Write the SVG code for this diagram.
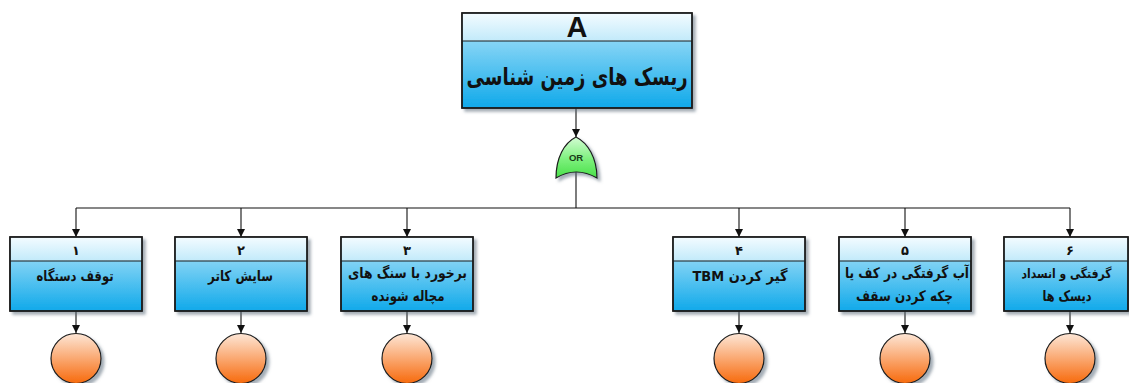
<svg xmlns="http://www.w3.org/2000/svg" width="1129" height="383" viewBox="0 0 1129 383">
  <defs>
    <linearGradient id="hdrFill" x1="0" y1="0" x2="0" y2="1">
      <stop offset="0" stop-color="#f2fbff"/>
      <stop offset="1" stop-color="#c2eafa"/>
    </linearGradient>
    <linearGradient id="bodyFill" x1="0" y1="0" x2="0" y2="1">
      <stop offset="0" stop-color="#b8e7fa"/>
      <stop offset="1" stop-color="#10a9ea"/>
    </linearGradient>
    <linearGradient id="gateFill" x1="0" y1="0" x2="0" y2="1">
      <stop offset="0" stop-color="#d4fcd4"/>
      <stop offset="0.55" stop-color="#7cf07c"/>
      <stop offset="1" stop-color="#48e048"/>
    </linearGradient>
    <linearGradient id="eventFill" x1="0" y1="0" x2="0" y2="1">
      <stop offset="0" stop-color="#fde6d6"/>
      <stop offset="1" stop-color="#f76a0c"/>
    </linearGradient>
    <filter id="shadow" x="-10%" y="-10%" width="130%" height="130%">
      <feDropShadow dx="3" dy="3" stdDeviation="1.5" flood-color="#5a6b7a" flood-opacity="0.55"/>
    </filter>
    <marker id="arrow" viewBox="0 0 10 10" refX="10" refY="5" markerWidth="8" markerHeight="8" markerUnits="userSpaceOnUse" orient="auto">
      <path d="M0,0 L10,5 L0,10 Z" fill="#111"/>
    </marker>
    <style>
      .frame { stroke: #1c1c1c; stroke-width: 1.5; }
      .hdr { fill: url(#hdrFill); }
      .body { fill: url(#bodyFill); }
      .div { stroke: #1c1c1c; stroke-width: 1; }
      .wire { stroke: #111; stroke-width: 1.1; fill: none; }
      .arr { marker-end: url(#arrow); }
      .event { fill: url(#eventFill); stroke: #1c1c1c; stroke-width: 1.2; }
      .fa { font-family: "DejaVu Sans", "Noto Sans", sans-serif; font-weight: bold; fill: #111; text-anchor: middle; direction: rtl; unicode-bidi: embed; }
      .num { font-size: 13px; }
      .lbl { font-size: 14.5px; }
    </style>
  </defs>

  <!-- connectors -->
  <g id="connectors">
    <line class="wire arr" x1="576" y1="108" x2="576" y2="137"/>
    <line class="wire" x1="576" y1="172" x2="576" y2="208"/>
    <line class="wire" x1="76" y1="208" x2="1070" y2="208"/>
    <line class="wire arr" x1="76" y1="208" x2="76" y2="237"/>
    <line class="wire arr" x1="241" y1="208" x2="241" y2="237"/>
    <line class="wire arr" x1="407" y1="208" x2="407" y2="237"/>
    <line class="wire arr" x1="739" y1="208" x2="739" y2="237"/>
    <line class="wire arr" x1="905" y1="208" x2="905" y2="237"/>
    <line class="wire arr" x1="1070" y1="208" x2="1070" y2="237"/>
    <line class="wire arr" x1="76" y1="311" x2="76" y2="333"/>
    <line class="wire arr" x1="241" y1="311" x2="241" y2="333"/>
    <line class="wire arr" x1="407" y1="311" x2="407" y2="333"/>
    <line class="wire arr" x1="739" y1="311" x2="739" y2="333"/>
    <line class="wire arr" x1="905" y1="311" x2="905" y2="333"/>
    <line class="wire arr" x1="1070" y1="311" x2="1070" y2="333"/>
  </g>

  <!-- top event -->
  <g id="top-event">
    <rect class="body frame" x="462" y="13" width="230" height="95" filter="url(#shadow)"/>
    <rect class="hdr" x="462.75" y="13.75" width="228.5" height="27.25"/>
    <line class="div" x1="462" y1="41" x2="692" y2="41"/>
    <rect class="frame" fill="none" x="462" y="13" width="230" height="95"/>
    <text x="577" y="37" font-family="'Liberation Sans', Arial, sans-serif" font-weight="bold" font-size="29" text-anchor="middle" fill="#111">A</text>
    <text class="fa" x="577" y="85" font-size="24" textLength="221" lengthAdjust="spacingAndGlyphs">ریسک های زمین شناسی</text>
  </g>

  <!-- OR gate -->
  <g id="or-gate">
    <path d="M576,137 C588,143 597,158 597,178 Q576,166 556,178 C556,158 564,143 576,137 Z" fill="url(#gateFill)" stroke="#1c1c1c" stroke-width="1.2" filter="url(#shadow)"/>
    <text x="576" y="161" font-family="'Liberation Sans', Arial, sans-serif" font-weight="bold" font-size="9.5" text-anchor="middle" fill="#1a3a1a">OR</text>
  </g>

  <!-- event 1 -->
  <g id="event-1">
    <rect class="body frame" x="10" y="237" width="132" height="74" filter="url(#shadow)"/>
    <rect class="hdr" x="10.75" y="237.75" width="130.5" height="23"/>
    <line class="div" x1="10" y1="261" x2="142" y2="261"/>
    <rect class="frame" fill="none" x="10" y="237" width="132" height="74"/>
    <text class="fa num" x="76" y="255">۱</text>
    <text class="fa lbl" x="75" y="281" textLength="77" lengthAdjust="spacingAndGlyphs">توقف دستگاه</text>
    <circle class="event" cx="76" cy="358.5" r="25" filter="url(#shadow)"/>
  </g>

  <!-- event 2 -->
  <g id="event-2">
    <rect class="body frame" x="175" y="237" width="132" height="74" filter="url(#shadow)"/>
    <rect class="hdr" x="175.75" y="237.75" width="130.5" height="23"/>
    <line class="div" x1="175" y1="261" x2="307" y2="261"/>
    <rect class="frame" fill="none" x="175" y="237" width="132" height="74"/>
    <text class="fa num" x="241" y="255">۲</text>
    <text class="fa lbl" x="240.5" y="281" textLength="65" lengthAdjust="spacingAndGlyphs">سایش کاتر</text>
    <circle class="event" cx="241" cy="358.5" r="25" filter="url(#shadow)"/>
  </g>

  <!-- event 3 -->
  <g id="event-3">
    <rect class="body frame" x="341" y="237" width="132" height="74" filter="url(#shadow)"/>
    <rect class="hdr" x="341.75" y="237.75" width="130.5" height="23"/>
    <line class="div" x1="341" y1="261" x2="473" y2="261"/>
    <rect class="frame" fill="none" x="341" y="237" width="132" height="74"/>
    <text class="fa num" x="407" y="255">۳</text>
    <text class="fa lbl" x="407.5" y="278" textLength="119" lengthAdjust="spacingAndGlyphs">برخورد با سنگ های</text>
    <text class="fa lbl" x="408" y="301" textLength="73" lengthAdjust="spacingAndGlyphs">مچاله شونده</text>
    <circle class="event" cx="407" cy="358.5" r="25" filter="url(#shadow)"/>
  </g>

  <!-- event 4 -->
  <g id="event-4">
    <rect class="body frame" x="673" y="237" width="132" height="74" filter="url(#shadow)"/>
    <rect class="hdr" x="673.75" y="237.75" width="130.5" height="23"/>
    <line class="div" x1="673" y1="261" x2="805" y2="261"/>
    <rect class="frame" fill="none" x="673" y="237" width="132" height="74"/>
    <text class="fa num" x="739" y="255">۴</text>
    <text class="fa lbl" x="740" y="281" textLength="95" lengthAdjust="spacingAndGlyphs">گیر کردن TBM</text>
    <circle class="event" cx="739" cy="358.5" r="25" filter="url(#shadow)"/>
  </g>

  <!-- event 5 -->
  <g id="event-5">
    <rect class="body frame" x="839" y="237" width="132" height="74" filter="url(#shadow)"/>
    <rect class="hdr" x="839.75" y="237.75" width="130.5" height="23"/>
    <line class="div" x1="839" y1="261" x2="971" y2="261"/>
    <rect class="frame" fill="none" x="839" y="237" width="132" height="74"/>
    <text class="fa num" x="905" y="255">۵</text>
    <text class="fa lbl" x="907" y="278" textLength="124" lengthAdjust="spacingAndGlyphs">آب گرفتگی در کف یا</text>
    <text class="fa lbl" x="904.5" y="301" textLength="97" lengthAdjust="spacingAndGlyphs">چکه کردن سقف</text>
    <circle class="event" cx="905" cy="358.5" r="25" filter="url(#shadow)"/>
  </g>

  <!-- event 6 (runs to the right edge) -->
  <g id="event-6">
    <rect class="body frame" x="1004" y="237" width="124" height="74" filter="url(#shadow)"/>
    <rect class="hdr" x="1004.75" y="237.75" width="122.5" height="23"/>
    <line class="div" x1="1004" y1="261" x2="1128" y2="261"/>
    <rect class="frame" fill="none" x="1004" y="237" width="124" height="74"/>
    <text class="fa num" x="1070" y="255">۶</text>
    <text class="fa lbl" x="1066.5" y="278" font-size="13" textLength="90" lengthAdjust="spacingAndGlyphs" style="font-size:13px">گرفتگی و انسداد</text>
    <text class="fa lbl" x="1067" y="301" textLength="49" lengthAdjust="spacingAndGlyphs">دیسک ها</text>
    <circle class="event" cx="1070" cy="358.5" r="25" filter="url(#shadow)"/>
  </g>
</svg>
